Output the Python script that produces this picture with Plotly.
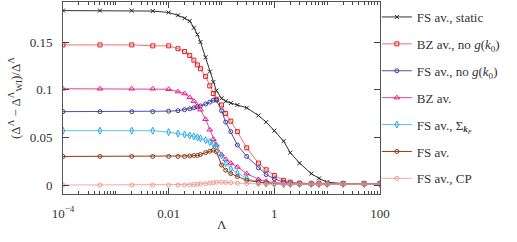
import plotly.graph_objects as go

lam = [1e-4, 5e-4, 2e-3, 5e-3, 0.01, 0.015, 0.02, 0.025, 0.03, 0.035, 0.04, 0.05, 0.06,
       0.07, 0.08, 0.1, 0.12, 0.15, 0.2, 0.3, 0.5, 0.7, 1, 1.5, 2, 3, 5, 7, 10, 20, 50, 100]

fs_static = [0.183, 0.183, 0.183, 0.1825, 0.181, 0.178, 0.175, 0.172, 0.165, 0.158, 0.150,
             0.134, 0.119, 0.108, 0.099, 0.091, 0.088, 0.086, 0.084, 0.081, 0.073, 0.066,
             0.057, 0.046, 0.034, 0.023, 0.012, 0.007, 0.003, 0.0015, 0.0015, 0.0015]
bz_nog = [0.147, 0.147, 0.147, 0.146, 0.146, 0.143, 0.140, 0.136, 0.131, 0.126, 0.122,
          0.114, 0.104, 0.096, 0.090, 0.084, 0.075, 0.067, 0.056, 0.039, 0.023, 0.016,
          0.010, 0.005, 0.003, 0.002, 0.0015, 0.0015, 0.0015, 0.0015, 0.0015, 0.0015]
fs_nog = [0.077, 0.077, 0.077, 0.077, 0.0775, 0.078, 0.079, 0.080, 0.081, 0.082, 0.083,
          0.085, 0.087, 0.089, 0.089, 0.078, 0.066, 0.056, 0.042, 0.030, 0.018, 0.011,
          0.0065, 0.003, 0.002, 0.0015, 0.0015, 0.0015, 0.0015, 0.0015, 0.0015, 0.0015]
bz_av = [0.101, 0.101, 0.101, 0.101, 0.1005, 0.098, 0.096, 0.092, 0.088, 0.083, 0.079,
         0.069, 0.058, 0.048, 0.042, 0.032, 0.027, 0.023, 0.019, 0.012, 0.006, 0.004,
         0.0025, 0.002, 0.0015, 0.0015, 0.0015, 0.0015, 0.0015, 0.0015, 0.0015, 0.0015]
fs_sigma = [0.057, 0.057, 0.057, 0.057, 0.0555, 0.054, 0.053, 0.052, 0.051, 0.050, 0.049,
            0.047, 0.045, 0.043, 0.041, 0.031, 0.023, 0.017, 0.0126, 0.007, 0.003, 0.0015,
            0.001, 0.001, 0.001, 0.001, 0.001, 0.001, 0.001, 0.001, 0.001, 0.001]
fs_av = [0.030, 0.030, 0.030, 0.030, 0.030, 0.030, 0.030, 0.0305, 0.031, 0.031, 0.032,
         0.034, 0.0355, 0.0367, 0.035, 0.021, 0.0155, 0.012, 0.009, 0.005, 0.003, 0.002,
         0.0015, 0.001, 0.001, 0.001, 0.001, 0.001, 0.001, 0.001, 0.001, 0.001]
fs_cp = [0.0, 0.0, 0.0, 0.0, 0.0, 0.0, 0.0, 0.0002, 0.0005, 0.0008, 0.001,
         0.0015, 0.002, 0.0025, 0.003, 0.003, 0.0028, 0.0025, 0.002, 0.0015, 0.001, 0.001,
         0.001, 0.001, 0.001, 0.001, 0.001, 0.001, 0.001, 0.001, 0.001, 0.001]

series = [
    ("FS av., static", fs_static, "#333333", "#222222", "x-thin-open", 4),
    ("BZ av., no <i>g</i>(<i>k</i><sub>0</sub>)", bz_nog, "#f07272", "#e41a1c", "square-open", 4),
    ("FS av., no <i>g</i>(<i>k</i><sub>0</sub>)", fs_nog, "#5050a8", "#3a3a9e", "circle-open", 4),
    ("BZ av.", bz_av, "#e8409a", "#e0208c", "triangle-up-open", 5),
    ("FS av., Σ<sub><b><i>k</i></b><sub><i>F</i></sub></sub>", fs_sigma, "#5cc4f0", "#20a8e8", "diamond-tall-open", 5),
    ("FS av.", fs_av, "#8c3a14", "#8c3a14", "circle-open", 4),
    ("FS av., CP", fs_cp, "#f4aaa4", "#f29a92", "circle-open", 4),
]

xticks = [1e-4, 1e-2, 1, 100]
xticktext = ["10<sup>−4</sup>", "0.01", "1", "100"]
yticks = [0, 0.05, 0.1, 0.15]
yticktext = ["0", "0.05", "0.1", "0.15"]
x_title = "Λ"
y_title = "(Δ<sup>Λ</sup> − Δ<sup>Λ</sup><sub>WI</sub>)/Δ<sup>Λ</sup>"

fig = go.Figure()
for i, (name, ys, lc, mc, sym, ms) in enumerate(series):
    fig.add_trace(go.Scatter(
        x=lam, y=ys, name=name, mode="lines+markers", legendgroup=str(i),
        line=dict(color=lc, width=1),
        marker=dict(symbol=sym, size=ms, color=mc, line=dict(width=1, color=mc)),
    ))

minor_vals = []
for e in range(-4, 2):
    for m in range(2, 10):
        minor_vals.append(m * 10 ** e)
    if e in (-3, -1, 1):
        minor_vals.append(10 ** e)

fam = "Liberation Serif"
font = dict(family=fam, size=13, color="#333")
fig.update_layout(
    width=517, height=242,
    margin=dict(l=63, r=137, t=2, b=48, autoexpand=False),
    paper_bgcolor="white", plot_bgcolor="white",
    font=font,
    showlegend=True,
    legend=dict(x=0.99, y=1.0, xanchor="left", yanchor="top", tracegroupgap=7,
                maxheight=240,
                font=dict(family=fam, size=13, color="#333"),
                bgcolor="rgba(0,0,0,0)", itemwidth=30),
    xaxis=dict(type="log", range=[-4, 2], tickvals=xticks, ticktext=xticktext,
               ticks="inside", ticklen=6, tickcolor="#444", showline=True, automargin=False,
               linecolor="#555", linewidth=1, mirror="ticks", showgrid=False, zeroline=False,
               ticklabelstandoff=7,
               minor=dict(tickvals=minor_vals, ticks="inside", ticklen=3, tickcolor="#444"),
               tickfont=font),
    yaxis=dict(range=[-0.0094, 0.192], tickvals=yticks, ticktext=yticktext,
               ticks="inside", ticklen=6, tickcolor="#444", showline=True, automargin=False,
               linecolor="#555", linewidth=1, mirror="ticks", showgrid=False, zeroline=False,
               ticklabelstandoff=7,
               title=dict(text=y_title, standoff=6, font=dict(family=fam, size=13)),
               tickfont=font),
    annotations=[dict(text=x_title, xref="paper", yref="paper", x=0.5, y=-0.16,
                      xanchor="center", yanchor="middle", showarrow=False,
                      font=dict(family=fam, size=13, color="#333"))],
)
fig.write_html("out.html", config={"displayModeBar": False},
               post_script="document.body.style.margin='0';document.body.style.padding='0';")
